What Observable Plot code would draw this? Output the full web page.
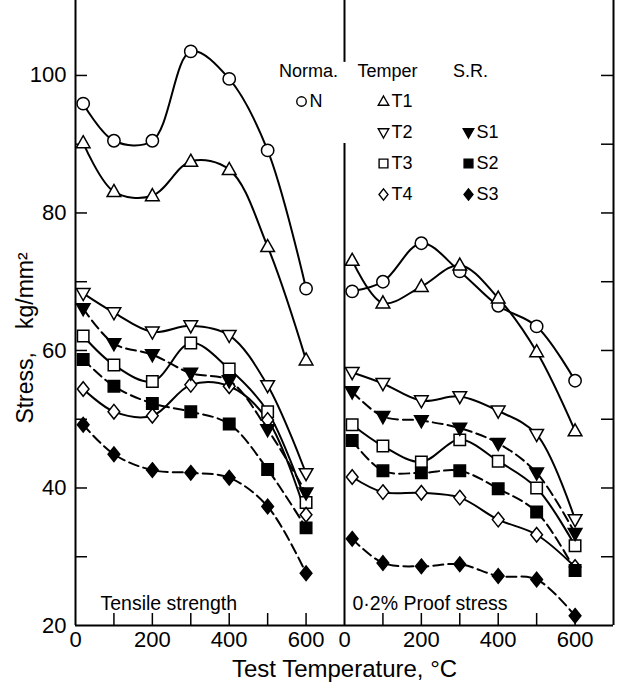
<!DOCTYPE html>
<html><head><meta charset="utf-8">
<script src="https://cdn.jsdelivr.net/npm/d3@7"></script>
<script src="https://cdn.jsdelivr.net/npm/@observablehq/plot@0.6"></script>
<style>body{margin:0;background:#fff}</style>
</head><body><div id="chart"></div>
<script>
// ---- data ----
const temps = [20, 100, 200, 300, 400, 500, 600];
const panels = ["Tensile strength", "0·2% Proof stress"];
const seriesKeys = ["N", "T1", "T2", "T3", "T4", "S1", "S2", "S3"];

const tensileN  = [95.9, 90.5, 90.5, 103.5, 99.5, 89.1, 69.0];
const tensileT1 = [90.2, 83.1, 82.5, 87.5, 86.3, 75.1, 58.6];
const tensileT2 = [68.3, 65.5, 62.7, 63.6, 62.2, 54.9, 42.1];
const tensileT3 = [62.1, 57.9, 55.5, 61.1, 57.3, 51.1, 37.9];
const tensileT4 = [54.4, 51.1, 50.5, 55.0, 54.8, 49.9, 36.1];
const tensileS1 = [66.1, 61.0, 59.4, 56.7, 55.6, 48.5, 39.3];
const tensileS2 = [58.7, 54.8, 52.3, 51.1, 49.3, 42.7, 34.2];
const tensileS3 = [49.2, 44.9, 42.6, 42.2, 41.5, 37.3, 27.6];

const proofN  = [68.6, 70.0, 75.6, 71.5, 66.5, 63.5, 55.6];
const proofT1 = [73.1, 66.9, 69.3, 72.4, 67.6, 59.8, 48.3];
const proofT2 = [56.8, 55.2, 52.7, 53.3, 51.2, 47.8, 35.4];
const proofT3 = [49.2, 46.1, 43.8, 47.0, 43.9, 40.0, 31.6];
const proofT4 = [41.6, 39.4, 39.3, 38.6, 35.4, 33.2, 28.5];
const proofS1 = [54.0, 50.4, 49.8, 48.7, 46.5, 42.2, 33.4];
const proofS2 = [46.9, 42.5, 42.2, 42.5, 39.9, 36.5, 28.0];
const proofS3 = [32.6, 29.1, 28.6, 28.9, 27.2, 26.7, 21.4];

const yTickValues = [30, 40, 50, 60, 70, 80, 90, 100];
const yLabelValues = [20, 40, 60, 80, 100];
const xTickValues = [100, 200, 300, 400, 500, 600];
const xLabelValues = [0, 200, 400, 600];

const groupTitles = ["Norma.", "Temper", "S.R."];
const normaKeys = ["N"];
const temperKeys = ["T1", "T2", "T3", "T4"];
const srKeys = ["S1", "S2", "S3"];
const yTitle = "Stress,\u2003kg/mm²";
const xTitle = "Test Temperature, °C";

// ---- layout constants ----
const W = 624, H = 687, mL = 75, mR = 11, mT = 0, mB = 62;
const xDom = [0, 700], yDom = [20, 110.9];
const pxPerC = (W - mL - mR) / 2 / (xDom[1] - xDom[0]);
const pxPerUnit = (H - mT - mB) / (yDom[1] - yDom[0]);
const tickLen = 12;

// ---- build table ----
const tensile = {N: tensileN, T1: tensileT1, T2: tensileT2, T3: tensileT3, T4: tensileT4, S1: tensileS1, S2: tensileS2, S3: tensileS3};
const proof = {N: proofN, T1: proofT1, T2: proofT2, T3: proofT3, T4: proofT4, S1: proofS1, S2: proofS2, S3: proofS3};
const rows = [];
[tensile, proof].forEach((set, pi) => {
  for (const k of seriesKeys) set[k].forEach((v, i) => rows.push({panel: panels[pi], key: k, t: temps[i], v}));
});
const isFilled = k => k.startsWith("S");

// ---- symbols ----
function poly(pts) {
  return {draw(ctx, size) {
    const h = Math.sqrt(size / Math.PI);
    ctx.moveTo(pts[0][0] * h, pts[0][1] * h);
    for (let i = 1; i < pts.length; i++) ctx.lineTo(pts[i][0] * h, pts[i][1] * h);
    ctx.closePath();
  }};
}
const circ = {draw(ctx, size) { const r = Math.sqrt(size / Math.PI) * 0.95; ctx.moveTo(r, 0); ctx.arc(0, 0, r, 0, 2 * Math.PI); }};
const triUp = poly([[0, -1.1], [1.05, 0.75], [-1.05, 0.75]]);
const triDown = poly([[0, 1.1], [1.05, -0.75], [-1.05, -0.75]]);
const sq = poly([[-0.88, -0.88], [0.88, -0.88], [0.88, 0.88], [-0.88, 0.88]]);
const dia = poly([[0, -1.12], [0.9, 0], [0, 1.12], [-0.9, 0]]);
const symbolRange = [circ, triUp, triDown, sq, dia, triDown, sq, dia];

// ---- legend marks ----
const R = panels[1];
const legendMarks = [];
const titleDx = [-36, 43, 126];
groupTitles.forEach((g, i) => legendMarks.push(Plot.text([{panel: R, g}], {fx: "panel", text: "g", frameAnchor: "top-left", lineAnchor: "middle", textAnchor: "middle", dx: titleDx[i], dy: 71, fontSize: 18})));
function legendItem(k, symDx, row) {
  const dy = 101 + 31 * row;
  legendMarks.push(Plot.dot([{panel: R, key: k}], {fx: "panel", symbol: "key", frameAnchor: "top-left", dx: symDx, dy, r: 5, fill: isFilled(k) ? "black" : "white", stroke: "black", strokeWidth: 1.4}));
  legendMarks.push(Plot.text([{panel: R, key: k}], {fx: "panel", text: "key", frameAnchor: "top-left", lineAnchor: "middle", textAnchor: "start", dx: symDx + 8, dy, fontSize: 18}));
}
normaKeys.forEach((k, i) => legendItem(k, -43, i));
temperKeys.forEach((k, i) => legendItem(k, 39, i));
srKeys.forEach((k, i) => legendItem(k, 124, i + 1));

const plot = Plot.plot({
  width: W, height: H,
  marginLeft: mL, marginRight: mR, marginTop: mT, marginBottom: mB,
  fx: {domain: panels, padding: 0, axis: null, label: null},
  x: {domain: xDom, label: null},
  y: {domain: yDom, label: null},
  symbol: {domain: seriesKeys, range: symbolRange},
  color: {type: "identity"},
  style: {fontFamily: "'Liberation Sans', Arial, sans-serif", fontSize: "22px", color: "black", background: "white"},
  marks: [
    // frame lines
    Plot.ruleY([{panel: panels[0], v: 20}, {panel: panels[1], v: 20}], {fx: "panel", y: "v", strokeWidth: 2}),
    Plot.ruleX([{panel: panels[0], t: 0}], {fx: "panel", x: "t", strokeWidth: 2}),
    Plot.ruleX([{panel: panels[1], t: 700}], {fx: "panel", x: "t", strokeWidth: 2}),
    Plot.ruleX([{panel: panels[1], t: 0, lo: 20, hi: 90.1}, {panel: panels[1], t: 0, lo: 101.9, hi: 110.9}], {fx: "panel", x: "t", y1: "lo", y2: "hi", strokeWidth: 2}),
    // inward ticks
    Plot.ruleX(xTickValues, {x: d => d, y1: yDom[0], y2: yDom[0] + tickLen / pxPerUnit, strokeWidth: 1.5}),
    Plot.ruleY(yTickValues.map(v => ({panel: panels[0], v})), {fx: "panel", y: "v", x1: 0, x2: tickLen / pxPerC, strokeWidth: 1.5}),
    Plot.ruleY(yTickValues.map(v => ({panel: panels[1], v})), {fx: "panel", y: "v", x1: xDom[1] - tickLen / pxPerC, x2: xDom[1], strokeWidth: 1.5}),
    // tick labels
    Plot.axisX({ticks: xLabelValues, anchor: "bottom", tickSize: 0, tickPadding: 6, fontSize: 22, label: null}),
    Plot.axisY({ticks: yLabelValues, anchor: "left", tickSize: 0, tickPadding: 9, fontSize: 22, label: null}),
    // titles
    Plot.text([{panel: panels[0], s: yTitle}], {fx: "panel", text: "s", frameAnchor: "left", lineAnchor: "middle", textAnchor: "middle", rotate: -90, dx: -50, dy: 25, fontSize: 23}),
    Plot.text([{panel: panels[0], s: xTitle}], {fx: "panel", text: "s", frameAnchor: "bottom-right", lineAnchor: "middle", textAnchor: "middle", dy: 44, fontSize: 24}),
    Plot.text([{panel: panels[0], s: panels[0]}], {fx: "panel", text: "s", frameAnchor: "bottom-left", lineAnchor: "middle", textAnchor: "start", dx: 25, dy: -22, fontSize: 19.5}),
    Plot.text([{panel: panels[1], s: panels[1]}], {fx: "panel", text: "s", frameAnchor: "bottom-left", lineAnchor: "middle", textAnchor: "start", dx: 8, dy: -22, fontSize: 19.5}),
    // data
    Plot.line(rows.filter(d => !isFilled(d.key)), {fx: "panel", x: "t", y: "v", z: "key", curve: "catmull-rom", stroke: "black", strokeWidth: 2}),
    Plot.line(rows.filter(d => isFilled(d.key)), {fx: "panel", x: "t", y: "v", z: "key", curve: "catmull-rom", stroke: "black", strokeWidth: 2, strokeDasharray: "10,5"}),
    Plot.dot(rows, {fx: "panel", x: "t", y: "v", symbol: "key", r: 6.5, fill: d => isFilled(d.key) ? "black" : "white", stroke: "black", strokeWidth: 1.5}),
    ...legendMarks
  ]
});
document.getElementById("chart").append(plot);
</script>
</body></html>
